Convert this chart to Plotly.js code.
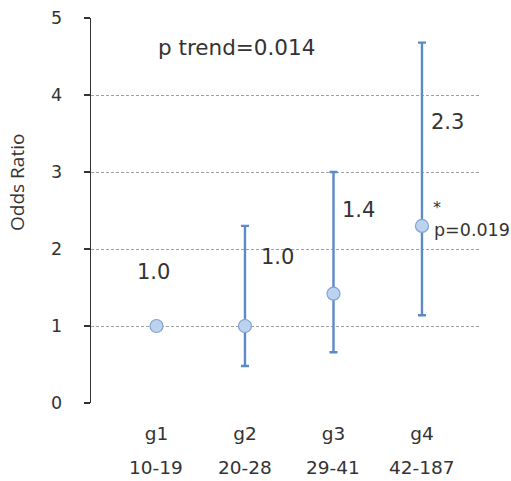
<!DOCTYPE html>
<html>
<head>
<meta charset="utf-8">
<script src="https://cdn.plot.ly/plotly-3.0.1.min.js"></script>
<style>
  html, body { margin: 0; padding: 0; background: #ffffff; }
  #chart { width: 511px; height: 481px; }
</style>
</head>
<body>
<div id="chart"></div>
<script>
// ---- data ----
const groups = ["g1", "g2", "g3", "g4"];
const ranges = ["10-19", "20-28", "29-41", "42-187"];
const oddsRatio = [1.0, 1.0, 1.42, 2.3];
const ciLower = [null, 0.48, 0.66, 1.14];
const ciUpper = [null, 2.3, 3.0, 4.68];
const orLabels = ["1.0", "1.0", "1.4", "2.3"];
const pTrendText = "p trend=0.014";
const sigMark = "*";
const sigPText = "p=0.019";
const yTitleText = "Odds Ratio";
const yTickVals = [0, 1, 2, 3, 4, 5];

// ---- derived ----
const errPlus = oddsRatio.map((v, i) => ciUpper[i] == null ? NaN : ciUpper[i] - v);
const errMinus = oddsRatio.map((v, i) => ciLower[i] == null ? NaN : v - ciLower[i]);

const textColor = "#333333";
const fontFam = "DejaVu Sans, Verdana, sans-serif";

const trace = {
  type: "scatter",
  mode: "markers",
  x: groups,
  y: oddsRatio,
  marker: {
    size: 13,
    color: "#bcd3ef",
    line: { color: "#7fa3d3", width: 1.2 }
  },
  error_y: {
    type: "data",
    symmetric: false,
    array: errPlus,
    arrayminus: errMinus,
    color: "#5b8ac6",
    thickness: 2.4,
    width: 4
  },
  hoverinfo: "skip",
  showlegend: false
};

// value label offsets (px) relative to each point
const labelShiftX = [-3, 33, 25, 26];
const labelShiftY = [54, 69, 84, 104];

const annotations = [];
groups.forEach((g, i) => {
  annotations.push({
    x: g, y: oddsRatio[i], xref: "x", yref: "y",
    text: orLabels[i], showarrow: false,
    xanchor: "center", yanchor: "middle",
    xshift: labelShiftX[i], yshift: labelShiftY[i],
    font: { family: fontFam, size: 21, color: textColor }
  });
  annotations.push({
    x: g, y: 0, xref: "x", yref: "paper",
    text: ranges[i], showarrow: false,
    xanchor: "center", yanchor: "middle",
    yshift: -64,
    font: { family: fontFam, size: 18.5, color: textColor }
  });
});
annotations.push({
  x: 0.372, y: 0.923, xref: "paper", yref: "paper",
  text: pTrendText, showarrow: false,
  xanchor: "center", yanchor: "middle",
  font: { family: fontFam, size: 21.5, color: textColor }
});
annotations.push({
  x: groups[3], y: oddsRatio[3], xref: "x", yref: "y",
  text: sigMark, showarrow: false,
  xanchor: "center", yanchor: "middle",
  xshift: 15, yshift: 18,
  font: { family: fontFam, size: 16, color: textColor }
});
annotations.push({
  x: groups[3], y: oddsRatio[3], xref: "x", yref: "y",
  text: sigPText, showarrow: false,
  xanchor: "left", yanchor: "middle",
  xshift: 10, yshift: -4,
  font: { family: fontFam, size: 17.5, color: textColor }
});
annotations.push({
  x: -0.19, y: 0.574, xref: "paper", yref: "paper",
  text: yTitleText, showarrow: false, textangle: -90,
  xanchor: "center", yanchor: "middle",
  font: { family: "Open Sans, Noto Sans, sans-serif", size: 19, color: textColor }
});

const layout = {
  width: 511,
  height: 481,
  margin: { l: 91, r: 30, t: 18, b: 78, pad: 0 },
  paper_bgcolor: "#ffffff",
  plot_bgcolor: "#ffffff",
  showlegend: false,
  xaxis: {
    type: "category",
    categoryorder: "array",
    categoryarray: groups,
    range: [-0.74, 3.667],
    showgrid: false,
    zeroline: false,
    showline: false,
    ticks: "",
    ticklabelstandoff: 17,
    tickfont: { family: fontFam, size: 18.5, color: textColor },
    fixedrange: true
  },
  yaxis: {
    range: [0, 5],
    tickmode: "array",
    tickvals: yTickVals,
    ticktext: yTickVals.map(String),
    showgrid: true,
    gridcolor: "#a0a0a0",
    gridwidth: 1,
    griddash: "3px,2px",
    zeroline: false,
    showline: true,
    linecolor: "#333333",
    linewidth: 1.4,
    ticks: "outside",
    ticklen: 6,
    tickcolor: "#333333",
    tickwidth: 1.2,
    ticklabelstandoff: 18,
    tickfont: { family: fontFam, size: 17.5, color: textColor },
    fixedrange: true
  },
  annotations: annotations
};

Plotly.newPlot("chart", [trace], layout, { staticPlot: true, displayModeBar: false });
</script>
</body>
</html>
